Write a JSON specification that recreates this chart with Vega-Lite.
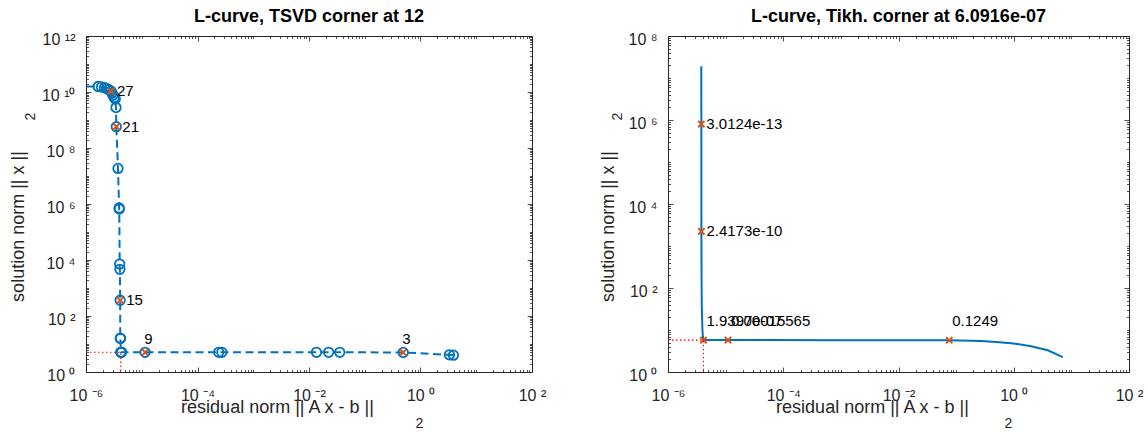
{
  "$schema": "https://vega.github.io/schema/vega-lite/v6.json",
  "background": "white",
  "padding": {"left": 8, "top": 7, "right": 0, "bottom": 0},
  "bounds": "flush",
  "spacing": 136,
  "config": {
    "font": "Liberation Sans",
    "view": {"stroke": "#262626", "strokeWidth": 1},
    "title": {"font": "Liberation Sans", "fontSize": 18, "fontWeight": "bold", "color": "#000000", "offset": 5, "frame": "group", "anchor": "middle"},
    "axis": {"domain": false, "grid": false, "tickColor": "#262626", "tickWidth": 0.8, "labelColor": "#262626", "labelFont": "Liberation Sans", "labelFontSize": 16, "titleColor": "#262626", "titleFont": "Liberation Sans", "titleFontSize": 18, "titleFontWeight": "normal", "labelFlush": false, "labelOverlap": false}
  },
  "datasets": {
    "tsvd": [
      {"k": 1, "rho": 3.9, "eta": 4.0},
      {"k": 2, "rho": 3.3, "eta": 4.1},
      {"k": 3, "rho": 0.49, "eta": 5.0},
      {"k": 4, "rho": 0.0356, "eta": 5.05},
      {"k": 5, "rho": 0.0225, "eta": 5.05},
      {"k": 6, "rho": 0.0136, "eta": 5.05},
      {"k": 7, "rho": 0.000273, "eta": 5.05},
      {"k": 8, "rho": 0.00024, "eta": 5.05},
      {"k": 9, "rho": 1.15e-5, "eta": 5.05},
      {"k": 10, "rho": 4.35e-6, "eta": 5.05},
      {"k": 11, "rho": 4.25e-6, "eta": 5.05},
      {"k": 12, "rho": 4.2e-6, "eta": 5.05},
      {"k": 13, "rho": 4.15e-6, "eta": 15.8},
      {"k": 14, "rho": 4.12e-6, "eta": 16.2},
      {"k": 15, "rho": 4.1e-6, "eta": 365},
      {"k": 16, "rho": 4.05e-6, "eta": 4630},
      {"k": 17, "rho": 4.02e-6, "eta": 7170},
      {"k": 18, "rho": 3.95e-6, "eta": 660000},
      {"k": 19, "rho": 3.93e-6, "eta": 720000},
      {"k": 20, "rho": 3.75e-6, "eta": 18700000},
      {"k": 21, "rho": 3.5e-6, "eta": 578000000},
      {"k": 22, "rho": 3.45e-6, "eta": 2770000000},
      {"k": 23, "rho": 3.35e-6, "eta": 5600000000},
      {"k": 24, "rho": 3.2e-6, "eta": 6400000000},
      {"k": 25, "rho": 3.05e-6, "eta": 7600000000},
      {"k": 26, "rho": 2.93e-6, "eta": 9000000000},
      {"k": 27, "rho": 2.8e-6, "eta": 10800000000},
      {"k": 28, "rho": 2.55e-6, "eta": 12200000000},
      {"k": 29, "rho": 2.37e-6, "eta": 13300000000},
      {"k": 30, "rho": 2.15e-6, "eta": 14300000000},
      {"k": 31, "rho": 1.9e-6, "eta": 15200000000},
      {"k": 32, "rho": 1.65e-6, "eta": 15700000000},
      {"k": 33, "rho": 4e-7, "eta": 16000000000}
    ],
    "tsvd_corner": [
      {"i": 1, "rho": 1e-6, "eta": 5.05},
      {"i": 2, "rho": 4.2e-6, "eta": 5.05},
      {"i": 3, "rho": 4.2e-6, "eta": 1}
    ],
    "tikh": [
      {"i": 0, "rho": 3.78e-6, "eta": 19000000},
      {"i": 1, "rho": 3.79e-6, "eta": 800000},
      {"i": 2, "rho": 3.8e-6, "eta": 2220},
      {"i": 3, "rho": 3.82e-6, "eta": 200},
      {"i": 4, "rho": 3.86e-6, "eta": 35},
      {"i": 5, "rho": 3.95e-6, "eta": 11},
      {"i": 6, "rho": 4.03e-6, "eta": 6.8},
      {"i": 7, "rho": 4.12e-6, "eta": 5.75},
      {"i": 8, "rho": 1.1e-5, "eta": 5.75},
      {"i": 9, "rho": 0.001, "eta": 5.74},
      {"i": 10, "rho": 0.076, "eta": 5.7},
      {"i": 11, "rho": 0.27, "eta": 5.45},
      {"i": 12, "rho": 0.5, "eta": 5.18},
      {"i": 13, "rho": 1.0, "eta": 4.77},
      {"i": 14, "rho": 2.0, "eta": 4.11},
      {"i": 15, "rho": 3.9, "eta": 3.3},
      {"i": 16, "rho": 7.1, "eta": 2.25}
    ],
    "tikh_pts": [
      {"rho": 3.79e-6, "eta": 800000, "lambda": "3.0124e-13"},
      {"rho": 3.8e-6, "eta": 2220, "lambda": "2.4173e-10"},
      {"rho": 4.12e-6, "eta": 5.75, "lambda": "1.9397e-07"},
      {"rho": 1.1e-5, "eta": 5.75, "lambda": "0.00015565"},
      {"rho": 0.076, "eta": 5.7, "lambda": "0.1249"}
    ],
    "tikh_corner": [
      {"i": 1, "rho": 1e-6, "eta": 5.75},
      {"i": 2, "rho": 4.12e-6, "eta": 5.75},
      {"i": 3, "rho": 4.12e-6, "eta": 1}
    ]
  },
  "hconcat": [
    {
      "width": 446,
      "height": 336,
      "title": {"text": "L-curve, TSVD corner at 12"},
      "resolve": {"axis": {"x": "independent", "y": "independent"}},
      "layer": [
        {
          "data": {"name": "tsvd"},
          "mark": {"type": "line", "color": "#0072BD", "strokeWidth": 2, "strokeDash": [8, 4.5], "clip": true},
          "encoding": {
            "x": {"field": "rho", "type": "quantitative", "scale": {"type": "log", "domain": [1e-6, 100], "nice": false},
              "axis": {"orient": "bottom", "values": [1e-6, 1e-4, 1e-2, 1, 100], "tickSize": -5, "labelPadding": 20, "labelExpr": "'10 ' + (datum.value < 1 ? '⁻' : '') + (abs(round(log(datum.value) / LN10)) >= 10 ? '¹' : '') + ['⁰','¹','²','³','⁴','⁵','⁶','⁷','⁸','⁹'][abs(round(log(datum.value) / LN10)) % 10]", "title": "residual norm || A x - b ||", "titleX": 191, "titleY": 35, "titleAlign": "center", "titleBaseline": "middle", "titleAngle": 0}},
            "y": {"field": "eta", "type": "quantitative", "scale": {"type": "log", "domain": [1, 1e12], "nice": false},
              "axis": {"orient": "left", "values": [1, 100, 1e4, 1e6, 1e8, 1e10, 1e12], "tickSize": -5, "labelPadding": 16, "labelOffset": 3, "labelBaseline": "middle", "labelExpr": "'10 ' + (datum.value < 1 ? '⁻' : '') + (abs(round(log(datum.value) / LN10)) >= 10 ? '¹' : '') + ['⁰','¹','²','³','⁴','⁵','⁶','⁷','⁸','⁹'][abs(round(log(datum.value) / LN10)) % 10]", "title": "solution norm || x ||", "titleX": -68, "titleY": 190, "titleAngle": 270, "titleAlign": "center", "titleBaseline": "middle"}},
            "order": {"field": "k", "type": "quantitative"}
          }
        },
        {
          "data": {"name": "tsvd"},
          "mark": {"type": "point", "shape": "circle", "filled": false, "size": 90, "strokeWidth": 1.8, "color": "#0072BD", "opacity": 1, "clip": true},
          "encoding": {
            "x": {"field": "rho", "type": "quantitative", "scale": {"type": "log", "domain": [1e-6, 100], "nice": false},
              "axis": {"orient": "bottom", "values": [2e-6,3e-6,4e-6,5e-6,6e-6,7e-6,8e-6,9e-6,1e-5,2e-5,3e-5,4e-5,5e-5,6e-5,7e-5,8e-5,9e-5,2e-4,3e-4,4e-4,5e-4,6e-4,7e-4,8e-4,9e-4,1e-3,2e-3,3e-3,4e-3,5e-3,6e-3,7e-3,8e-3,9e-3,2e-2,3e-2,4e-2,5e-2,6e-2,7e-2,8e-2,9e-2,1e-1,2e-1,3e-1,4e-1,5e-1,6e-1,7e-1,8e-1,9e-1,2,3,4,5,6,7,8,9,10,20,30,40,50,60,70,80,90], "tickSize": -2.5, "labels": false, "title": "2", "titleFontSize": 14, "titleX": 333, "titleY": 51, "titleAlign": "center", "titleBaseline": "middle", "titleAngle": 0}},
            "y": {"field": "eta", "type": "quantitative", "scale": {"type": "log", "domain": [1, 1e12], "nice": false},
              "axis": {"orient": "left", "values": [2,3,4,5,6,7,8,9,10,20,30,40,50,60,70,80,90,200,300,400,500,600,700,800,900,1e3,2e3,3e3,4e3,5e3,6e3,7e3,8e3,9e3,2e4,3e4,4e4,5e4,6e4,7e4,8e4,9e4,1e5,2e5,3e5,4e5,5e5,6e5,7e5,8e5,9e5,2e6,3e6,4e6,5e6,6e6,7e6,8e6,9e6,1e7,2e7,3e7,4e7,5e7,6e7,7e7,8e7,9e7,2e8,3e8,4e8,5e8,6e8,7e8,8e8,9e8,1e9,2e9,3e9,4e9,5e9,6e9,7e9,8e9,9e9,2e10,3e10,4e10,5e10,6e10,7e10,8e10,9e10,1e11,2e11,3e11,4e11,5e11,6e11,7e11,8e11,9e11], "tickSize": -2.5, "labels": false, "title": "2", "titleFontSize": 14, "titleX": -56, "titleY": 80, "titleAngle": 270, "titleAlign": "center", "titleBaseline": "middle"}}
          }
        },
        {
          "data": {"name": "tsvd"},
          "transform": [{"filter": "datum.k == 3 || datum.k == 9 || datum.k == 15 || datum.k == 21 || datum.k == 27"}],
          "mark": {"type": "point", "shape": "M-1,-1L1,1M-1,1L1,-1", "filled": false, "size": 40, "strokeWidth": 2, "color": "#D95319", "opacity": 1},
          "encoding": {
            "x": {"field": "rho", "type": "quantitative", "scale": {"type": "log", "domain": [1e-6, 100], "nice": false},
              "axis": {"orient": "top", "values": [1e-6, 1e-4, 1e-2, 1, 100], "tickSize": -5, "labels": false, "title": null}},
            "y": {"field": "eta", "type": "quantitative", "scale": {"type": "log", "domain": [1, 1e12], "nice": false},
              "axis": {"orient": "right", "values": [1, 100, 1e4, 1e6, 1e8, 1e10, 1e12], "tickSize": -5, "labels": false, "title": null}}
          }
        },
        {
          "data": {"name": "tsvd"},
          "transform": [{"filter": "datum.k == 15 || datum.k == 21 || datum.k == 27"}],
          "mark": {"type": "text", "align": "left", "baseline": "middle", "dx": 6, "fontSize": 15, "font": "Liberation Sans", "color": "#000000"},
          "encoding": {
            "x": {"field": "rho", "type": "quantitative", "scale": {"type": "log", "domain": [1e-6, 100], "nice": false},
              "axis": {"orient": "top", "values": [2e-6,3e-6,4e-6,5e-6,6e-6,7e-6,8e-6,9e-6,1e-5,2e-5,3e-5,4e-5,5e-5,6e-5,7e-5,8e-5,9e-5,2e-4,3e-4,4e-4,5e-4,6e-4,7e-4,8e-4,9e-4,1e-3,2e-3,3e-3,4e-3,5e-3,6e-3,7e-3,8e-3,9e-3,2e-2,3e-2,4e-2,5e-2,6e-2,7e-2,8e-2,9e-2,1e-1,2e-1,3e-1,4e-1,5e-1,6e-1,7e-1,8e-1,9e-1,2,3,4,5,6,7,8,9,10,20,30,40,50,60,70,80,90], "tickSize": -2.5, "labels": false, "title": null}},
            "y": {"field": "eta", "type": "quantitative", "scale": {"type": "log", "domain": [1, 1e12], "nice": false},
              "axis": {"orient": "right", "values": [2,3,4,5,6,7,8,9,10,20,30,40,50,60,70,80,90,200,300,400,500,600,700,800,900,1e3,2e3,3e3,4e3,5e3,6e3,7e3,8e3,9e3,2e4,3e4,4e4,5e4,6e4,7e4,8e4,9e4,1e5,2e5,3e5,4e5,5e5,6e5,7e5,8e5,9e5,2e6,3e6,4e6,5e6,6e6,7e6,8e6,9e6,1e7,2e7,3e7,4e7,5e7,6e7,7e7,8e7,9e7,2e8,3e8,4e8,5e8,6e8,7e8,8e8,9e8,1e9,2e9,3e9,4e9,5e9,6e9,7e9,8e9,9e9,2e10,3e10,4e10,5e10,6e10,7e10,8e10,9e10,1e11,2e11,3e11,4e11,5e11,6e11,7e11,8e11,9e11], "tickSize": -2.5, "labels": false, "title": null}},
            "text": {"field": "k", "type": "nominal"}
          }
        },
        {
          "data": {"name": "tsvd"},
          "transform": [{"filter": "datum.k == 3 || datum.k == 9"}],
          "mark": {"type": "text", "align": "left", "baseline": "middle", "dx": -1, "dy": -13, "fontSize": 15, "font": "Liberation Sans", "color": "#000000"},
          "encoding": {
            "x": {"field": "rho", "type": "quantitative", "scale": {"type": "log", "domain": [1e-6, 100], "nice": false}, "axis": null},
            "y": {"field": "eta", "type": "quantitative", "scale": {"type": "log", "domain": [1, 1e12], "nice": false}, "axis": null},
            "text": {"field": "k", "type": "nominal"}
          }
        },
        {
          "data": {"name": "tsvd_corner"},
          "mark": {"type": "line", "color": "#FF0000", "strokeWidth": 1.1, "strokeDash": [1.5, 2.5]},
          "encoding": {
            "x": {"field": "rho", "type": "quantitative", "scale": {"type": "log", "domain": [1e-6, 100], "nice": false}, "axis": null},
            "y": {"field": "eta", "type": "quantitative", "scale": {"type": "log", "domain": [1, 1e12], "nice": false}, "axis": null},
            "order": {"field": "i", "type": "quantitative"}
          }
        }
      ]
    },
    {
      "width": 461,
      "height": 336,
      "title": {"text": "L-curve, Tikh. corner at 6.0916e-07"},
      "resolve": {"axis": {"x": "independent", "y": "independent"}},
      "layer": [
        {
          "data": {"name": "tikh"},
          "mark": {"type": "line", "color": "#0072BD", "strokeWidth": 2, "clip": true},
          "encoding": {
            "x": {"field": "rho", "type": "quantitative", "scale": {"type": "log", "domain": [1e-6, 100], "nice": false},
              "axis": {"orient": "bottom", "values": [1e-6, 1e-4, 1e-2, 1, 100], "tickSize": -5, "labelPadding": 20, "labelExpr": "'10 ' + (datum.value < 1 ? '⁻' : '') + (abs(round(log(datum.value) / LN10)) >= 10 ? '¹' : '') + ['⁰','¹','²','³','⁴','⁵','⁶','⁷','⁸','⁹'][abs(round(log(datum.value) / LN10)) % 10]", "title": "residual norm || A x - b ||", "titleX": 204, "titleY": 35, "titleAlign": "center", "titleBaseline": "middle", "titleAngle": 0}},
            "y": {"field": "eta", "type": "quantitative", "scale": {"type": "log", "domain": [1, 1e8], "nice": false},
              "axis": {"orient": "left", "values": [1, 100, 1e4, 1e6, 1e8], "tickSize": -5, "labelPadding": 16, "labelOffset": 3, "labelBaseline": "middle", "labelExpr": "'10 ' + (datum.value < 1 ? '⁻' : '') + (abs(round(log(datum.value) / LN10)) >= 10 ? '¹' : '') + ['⁰','¹','²','³','⁴','⁵','⁶','⁷','⁸','⁹'][abs(round(log(datum.value) / LN10)) % 10]", "title": "solution norm || x ||", "titleX": -60, "titleY": 190, "titleAngle": 270, "titleAlign": "center", "titleBaseline": "middle"}},
            "order": {"field": "i", "type": "quantitative"}
          }
        },
        {
          "data": {"name": "tikh_pts"},
          "mark": {"type": "point", "shape": "M-1,-1L1,1M-1,1L1,-1", "filled": false, "size": 40, "strokeWidth": 2, "color": "#D95319", "opacity": 1},
          "encoding": {
            "x": {"field": "rho", "type": "quantitative", "scale": {"type": "log", "domain": [1e-6, 100], "nice": false},
              "axis": {"orient": "bottom", "values": [2e-6,3e-6,4e-6,5e-6,6e-6,7e-6,8e-6,9e-6,1e-5,2e-5,3e-5,4e-5,5e-5,6e-5,7e-5,8e-5,9e-5,2e-4,3e-4,4e-4,5e-4,6e-4,7e-4,8e-4,9e-4,1e-3,2e-3,3e-3,4e-3,5e-3,6e-3,7e-3,8e-3,9e-3,2e-2,3e-2,4e-2,5e-2,6e-2,7e-2,8e-2,9e-2,1e-1,2e-1,3e-1,4e-1,5e-1,6e-1,7e-1,8e-1,9e-1,2,3,4,5,6,7,8,9,10,20,30,40,50,60,70,80,90], "tickSize": -2.5, "labels": false, "title": "2", "titleFontSize": 14, "titleX": 340, "titleY": 51, "titleAlign": "center", "titleBaseline": "middle", "titleAngle": 0}},
            "y": {"field": "eta", "type": "quantitative", "scale": {"type": "log", "domain": [1, 1e8], "nice": false},
              "axis": {"orient": "left", "values": [2,3,4,5,6,7,8,9,10,20,30,40,50,60,70,80,90,200,300,400,500,600,700,800,900,1e3,2e3,3e3,4e3,5e3,6e3,7e3,8e3,9e3,2e4,3e4,4e4,5e4,6e4,7e4,8e4,9e4,1e5,2e5,3e5,4e5,5e5,6e5,7e5,8e5,9e5,2e6,3e6,4e6,5e6,6e6,7e6,8e6,9e6,1e7,2e7,3e7,4e7,5e7,6e7,7e7,8e7,9e7], "tickSize": -2.5, "labels": false, "title": "2", "titleFontSize": 14, "titleX": -51, "titleY": 80, "titleAngle": 270, "titleAlign": "center", "titleBaseline": "middle"}}
          }
        },
        {
          "data": {"name": "tikh_pts"},
          "transform": [{"filter": "datum.eta > 100"}],
          "mark": {"type": "text", "align": "left", "baseline": "middle", "dx": 5, "fontSize": 15, "font": "Liberation Sans", "color": "#000000"},
          "encoding": {
            "x": {"field": "rho", "type": "quantitative", "scale": {"type": "log", "domain": [1e-6, 100], "nice": false},
              "axis": {"orient": "top", "values": [1e-6, 1e-4, 1e-2, 1, 100], "tickSize": -5, "labels": false, "title": null}},
            "y": {"field": "eta", "type": "quantitative", "scale": {"type": "log", "domain": [1, 1e8], "nice": false},
              "axis": {"orient": "right", "values": [1, 100, 1e4, 1e6, 1e8], "tickSize": -5, "labels": false, "title": null}},
            "text": {"field": "lambda", "type": "nominal"}
          }
        },
        {
          "data": {"name": "tikh_pts"},
          "transform": [{"filter": "datum.eta <= 100"}],
          "mark": {"type": "text", "align": "left", "baseline": "middle", "dx": 3, "dy": -19, "fontSize": 15, "font": "Liberation Sans", "color": "#000000"},
          "encoding": {
            "x": {"field": "rho", "type": "quantitative", "scale": {"type": "log", "domain": [1e-6, 100], "nice": false},
              "axis": {"orient": "top", "values": [2e-6,3e-6,4e-6,5e-6,6e-6,7e-6,8e-6,9e-6,1e-5,2e-5,3e-5,4e-5,5e-5,6e-5,7e-5,8e-5,9e-5,2e-4,3e-4,4e-4,5e-4,6e-4,7e-4,8e-4,9e-4,1e-3,2e-3,3e-3,4e-3,5e-3,6e-3,7e-3,8e-3,9e-3,2e-2,3e-2,4e-2,5e-2,6e-2,7e-2,8e-2,9e-2,1e-1,2e-1,3e-1,4e-1,5e-1,6e-1,7e-1,8e-1,9e-1,2,3,4,5,6,7,8,9,10,20,30,40,50,60,70,80,90], "tickSize": -2.5, "labels": false, "title": null}},
            "y": {"field": "eta", "type": "quantitative", "scale": {"type": "log", "domain": [1, 1e8], "nice": false},
              "axis": {"orient": "right", "values": [2,3,4,5,6,7,8,9,10,20,30,40,50,60,70,80,90,200,300,400,500,600,700,800,900,1e3,2e3,3e3,4e3,5e3,6e3,7e3,8e3,9e3,2e4,3e4,4e4,5e4,6e4,7e4,8e4,9e4,1e5,2e5,3e5,4e5,5e5,6e5,7e5,8e5,9e5,2e6,3e6,4e6,5e6,6e6,7e6,8e6,9e6,1e7,2e7,3e7,4e7,5e7,6e7,7e7,8e7,9e7], "tickSize": -2.5, "labels": false, "title": null}},
            "text": {"field": "lambda", "type": "nominal"}
          }
        },
        {
          "data": {"name": "tikh_corner"},
          "mark": {"type": "line", "color": "#FF0000", "strokeWidth": 1.1, "strokeDash": [1.5, 2.5]},
          "encoding": {
            "x": {"field": "rho", "type": "quantitative", "scale": {"type": "log", "domain": [1e-6, 100], "nice": false}, "axis": null},
            "y": {"field": "eta", "type": "quantitative", "scale": {"type": "log", "domain": [1, 1e8], "nice": false}, "axis": null},
            "order": {"field": "i", "type": "quantitative"}
          }
        }
      ]
    }
  ]
}
